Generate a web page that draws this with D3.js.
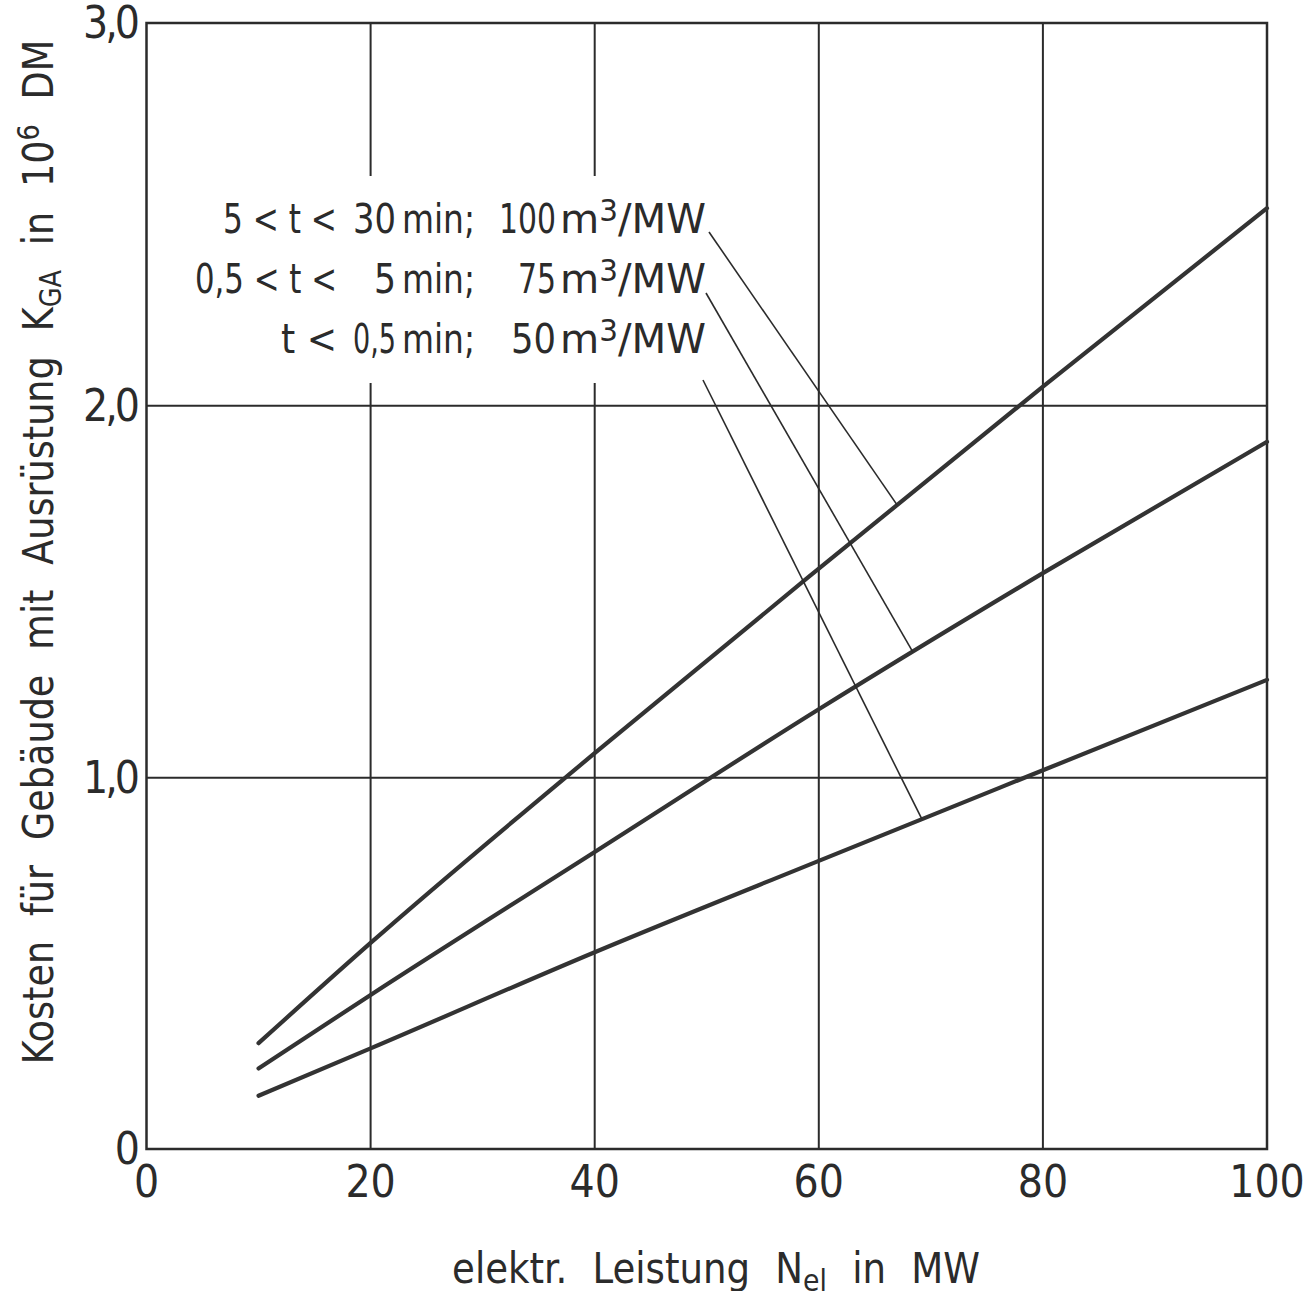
<!DOCTYPE html>
<html>
<head>
<meta charset="utf-8">
<script src="https://cdn.jsdelivr.net/npm/d3@7"></script>
<style>
  html, body { margin: 0; padding: 0; background: #fff; }
  svg { display: block; }
</style>
</head>
<body>
<svg id="chart" width="1312" height="1291"></svg>
<script>
// ---------- data ----------
const xValues = [10, 20, 40, 60, 80, 100];                 // N_el in MW
const series100 = [0.285, 0.555, 1.066, 1.562, 2.05, 2.516]; // 5<t<30 min; 100 m3/MW
const series75  = [0.217, 0.415, 0.80, 1.184, 1.55, 1.903];  // 0,5<t<5 min; 75 m3/MW
const series50  = [0.1435, 0.271, 0.53, 0.776, 1.02, 1.263]; // t<0,5 min; 50 m3/MW
const xTicks = [0, 20, 40, 60, 80, 100];
const xTickLabels = ["0", "20", "40", "60", "80", "100"];
const yTicks = [0, 1, 2, 3];
const yTickLabels = ["0", "1,0", "2,0", "3,0"];
const labelLeft  = ["5 < t <", "0,5 < t <", "t <"];
const labelTime  = ["30", "5", "0,5"];
const labelVol   = ["100", "75", "50"];
const leaderX    = [67.0, 68.4, 69.2];   // where each leader meets its curve (MW)

const seriesList = [series100, series75, series50];

// ---------- setup ----------
const FONT = "'Liberation Sans Narrow','DejaVu Sans Condensed','Liberation Sans','DejaVu Sans',sans-serif";
const INK = "#2b2b2b";
const svg = d3.select("#chart");

const x = d3.scaleLinear().domain([0, 100]).range([146.5, 1267]);
// hand-drawn grid is slightly uneven: piecewise linear scale
const y = d3.scaleLinear().domain([0, 1, 2, 3]).range([1149, 777.7, 405.7, 23]);

// squeeze a single text node to a given advance width
function fit(sel, w) {
  sel.each(function () {
    const n = this.getComputedTextLength();
    if (Math.abs(n - w) > 1) {
      d3.select(this).attr("textLength", w).attr("lengthAdjust", "spacingAndGlyphs");
    }
  });
}
// scale a group horizontally (in its own frame) so its bbox width equals w
function fitGroup(gSel, inner, w, tx, ty, rot) {
  const bw = inner.node().getBBox().width;
  const s = w / bw;
  gSel.attr("transform", `translate(${tx},${ty}) rotate(${rot}) scale(${s},1)`);
}

// ---------- grid ----------
const g = svg.append("g");
g.selectAll("line.vgrid").data(xTicks.slice(1, -1)).join("line")
  .attr("x1", d => x(d)).attr("x2", d => x(d))
  .attr("y1", y(3)).attr("y2", y(0))
  .attr("stroke", INK).attr("stroke-width", 2);
g.selectAll("line.hgrid").data(yTicks.slice(1, -1)).join("line")
  .attr("x1", x(0)).attr("x2", x(100))
  .attr("y1", d => y(d)).attr("y2", d => y(d))
  .attr("stroke", INK).attr("stroke-width", 2);

// frame
g.append("rect")
  .attr("x", x(0)).attr("y", y(3))
  .attr("width", x(100) - x(0)).attr("height", y(0) - y(3))
  .attr("fill", "none").attr("stroke", INK).attr("stroke-width", 2.5);

// white knock-out behind the labels
g.append("rect").attr("x", 185).attr("y", 176).attr("width", 527).attr("height", 207)
  .attr("fill", "#fff");

// ---------- curves ----------
const line = d3.line().x(d => x(d[0])).y(d => y(d[1])).curve(d3.curveMonotoneX);
seriesList.forEach(s => {
  g.append("path")
    .datum(xValues.map((v, i) => [v, s[i]]))
    .attr("d", line)
    .attr("fill", "none").attr("stroke", "#333").attr("stroke-width", 4.2)
    .attr("stroke-linecap", "round");
});

// ---------- tick labels ----------
svg.selectAll("text.xt").data(xTicks).join("text")
  .attr("x", d => x(d)).attr("y", 1197)
  .attr("text-anchor", "middle")
  .attr("font-family", FONT).attr("font-size", 44).attr("fill", INK)
  .text((d, i) => xTickLabels[i]);

svg.selectAll("text.yt").data(yTicks).join("text")
  .attr("x", 137).attr("y", d => y(d) + 15)
  .attr("text-anchor", "end")
  .attr("font-family", FONT).attr("font-size", 44).attr("fill", INK)
  .attr("letter-spacing", -3)
  .text((d, i) => yTickLabels[i]);

// ---------- curve labels ----------
const baselines = [233, 293, 353];
const leftW = [114, 142, 56], timeW = [43, 22, 43], volW = [57, 38, 45];
const fs = 41;
labelLeft.forEach((t, i) => {
  const b = baselines[i];
  svg.append("text").attr("x", 337).attr("y", b).attr("text-anchor", "end")
    .attr("font-family", FONT).attr("font-size", fs).attr("fill", INK)
    .text(t).call(fit, leftW[i]);
  svg.append("text").attr("x", 396).attr("y", b).attr("text-anchor", "end")
    .attr("font-family", FONT).attr("font-size", fs).attr("fill", INK)
    .text(labelTime[i]).call(fit, timeW[i]);
  svg.append("text").attr("x", 402).attr("y", b)
    .attr("font-family", FONT).attr("font-size", fs).attr("fill", INK)
    .text("min;").call(fit, 73);
  svg.append("text").attr("x", 556).attr("y", b).attr("text-anchor", "end")
    .attr("font-family", FONT).attr("font-size", fs).attr("fill", INK)
    .text(labelVol[i]).call(fit, volW[i]);
  const ug = svg.append("g");
  const u = ug.append("text").attr("x", 0).attr("y", 0)
    .attr("font-family", FONT).attr("font-size", fs).attr("fill", INK);
  u.append("tspan").text("m");
  u.append("tspan").attr("dy", -12).attr("font-size", 30).text("3");
  u.append("tspan").attr("dy", 12).text("/MW");
  fitGroup(ug, u, 146, 560, b, 0);
});

// ---------- leader lines ----------
const leaderStart = [[709, 232], [706, 293], [703, 380]];
seriesList.forEach((s, i) => {
  const yv = d3.scaleLinear().domain(xValues).range(s)(leaderX[i]);
  svg.append("line")
    .attr("x1", leaderStart[i][0]).attr("y1", leaderStart[i][1])
    .attr("x2", x(leaderX[i])).attr("y2", y(yv))
    .attr("stroke", INK).attr("stroke-width", 1.6);
});

// ---------- axis titles ----------
const xg = svg.append("g");
const xt = xg.append("text").attr("x", 0).attr("y", 0)
  .attr("text-anchor", "middle").attr("font-family", FONT).attr("font-size", 43)
  .attr("fill", INK).attr("word-spacing", 14);
xt.append("tspan").text("elektr. Leistung N");
xt.append("tspan").attr("dy", 8).attr("font-size", 31).text("el");
xt.append("tspan").attr("dy", -8).text(" in MW");
fitGroup(xg, xt, 528, 716, 1283, 0);

const yg = svg.append("g");
const yt = yg.append("text").attr("x", 0).attr("y", 0)
  .attr("text-anchor", "middle").attr("font-family", FONT).attr("font-size", 43)
  .attr("fill", INK).attr("word-spacing", 14);
yt.append("tspan").text("Kosten für Gebäude mit Ausrüstung K");
yt.append("tspan").attr("dy", 8).attr("font-size", 30).text("GA");
yt.append("tspan").attr("dy", -8).text(" in 10");
yt.append("tspan").attr("dy", -14).attr("font-size", 30).text("6");
yt.append("tspan").attr("dy", 14).text(" DM");
fitGroup(yg, yt, 1025, 53, 552, -90);
</script>
</body>
</html>
